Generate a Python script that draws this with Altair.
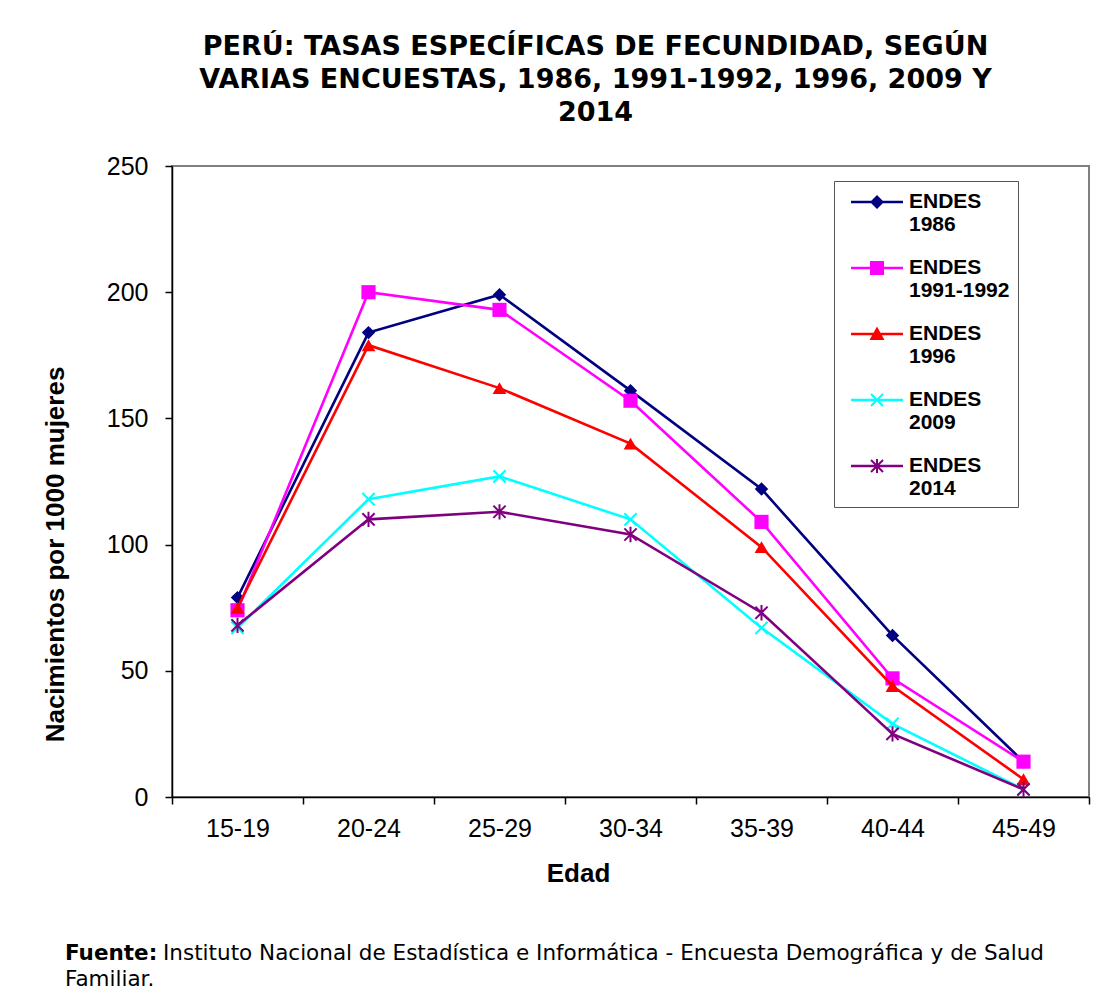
import math
import altair as alt
import pandas as pd

# ---------------- data ----------------
ages = ["15-19", "20-24", "25-29", "30-34", "35-39", "40-44", "45-49"]
series = ["ENDES 1986", "ENDES 1991-1992", "ENDES 1996", "ENDES 2009", "ENDES 2014"]
v1986 = [79, 184, 199, 161, 122, 64, 14]
v1991 = [74, 200, 193, 157, 109, 47, 14]
v1996 = [75, 179, 162, 140, 99, 44, 7]
v2009 = [67, 118, 127, 110, 67, 29, 3]
v2014 = [68, 110, 113, 104, 73, 25, 3]
y_ticks = [0, 50, 100, 150, 200, 250]

colors = ["#000080", "#FF00FF", "#FF0000", "#00FFFF", "#800080"]

values = [v1986, v1991, v1996, v2009, v2014]
rows = []
for s, vals in zip(series, values):
    for a, v in zip(ages, vals):
        rows.append({"Edad": a, "serie": s, "valor": v})
df = pd.DataFrame(rows)

# ---------------- styles ----------------
W, H = 917, 631
LABEL_FONT = "Liberation Sans"

# marker shapes for the data points (unit paths)
X_PATH = "M-1,-1L1,1M-1,1L1,-1"
AST_PATH = "M-1,-1L1,1M-1,1L1,-1M0,-1.25L0,1.25"
point_styles = [
    dict(shape="diamond", filled=True, size=180, strokeWidth=0),
    dict(shape="square", filled=True, size=200, strokeWidth=0),
    dict(shape="triangle-up", filled=True, size=190, strokeWidth=0),
    dict(shape=X_PATH, filled=False, size=150, strokeWidth=2),
    dict(shape=AST_PATH, filled=False, size=150, strokeWidth=2),
]

# legend symbols: horizontal line + marker, built as filled polygons
SYM_SIZE = 26.0          # nominal symbol box (px)
U = SYM_SIZE / 2.0       # px per path unit
HALF_LINE = 26.0         # half length of the legend line (px)


def poly(pts):
    area = 0.0
    for i in range(len(pts)):
        x1, y1 = pts[i]
        x2, y2 = pts[(i + 1) % len(pts)]
        area += x1 * y2 - x2 * y1
    if area < 0:
        pts = list(reversed(pts))
    return "M" + "L".join(f"{x / U:.4f},{y / U:.4f}" for x, y in pts) + "Z"


def thick(a, b, t):
    dx, dy = b[0] - a[0], b[1] - a[1]
    ln = math.hypot(dx, dy)
    nx, ny = -dy / ln * t / 2, dx / ln * t / 2
    return poly([(a[0] + nx, a[1] + ny), (b[0] + nx, b[1] + ny),
                 (b[0] - nx, b[1] - ny), (a[0] - nx, a[1] - ny)])


line_part = thick((-HALF_LINE, 0), (HALF_LINE, 0), 2.6)
legend_paths = [
    line_part + poly([(0, -7), (7, 0), (0, 7), (-7, 0)]),
    line_part + poly([(-7, -7), (7, -7), (7, 7), (-7, 7)]),
    line_part + poly([(0, -7.5), (7.5, 6), (-7.5, 6)]),
    line_part + thick((-6, -6), (6, 6), 2) + thick((-6, 6), (6, -6), 2),
    line_part + thick((-6, -6), (6, 6), 2) + thick((-6, 6), (6, -6), 2) + thick((0, -7), (0, 7), 2),
]

x_enc = alt.X(
    "Edad:N",
    sort=ages,
    scale=alt.Scale(type="band", paddingInner=0, paddingOuter=0),
    axis=alt.Axis(
        title="Edad",
        labelAngle=0,
        tickBand="extent",
        tickSize=7,
        labelPadding=12,
        titleX=406,
        titleY=76,
        titleBaseline="middle",
        titleAnchor="middle",
    ),
)
y_enc = alt.Y(
    "valor:Q",
    scale=alt.Scale(domain=[0, 250], nice=False),
    axis=alt.Axis(
        title="Nacimientos por 1000 mujeres",
        values=y_ticks,
        tickSize=7,
        labelPadding=17,
        titleAngle=-90,
        titleX=-117,
        titleY=388,
        titleBaseline="middle",
        titleAlign="center",
    ),
)

leg = alt.Legend(
    orient="none",
    legendX=662,
    legendY=15,
    title=None,
    labelExpr="split(datum.label, ' ')",
    labelFont=LABEL_FONT,
    labelFontSize=21,
    labelFontWeight="bold",
    labelColor="black",
    labelBaseline="middle",
    labelOffset=19,
    labelLimit=400,
    symbolSize=SYM_SIZE * SYM_SIZE,
    symbolOpacity=1,
    symbolStrokeWidth=0,
    symbolOffset=22,
    padding=8,
    rowPadding=20,
    strokeColor="#555555",
    fillColor="white",
)

base = alt.Chart(df)

legend_layer = base.mark_point(filled=True, opacity=0).encode(
    x=x_enc,
    y=y_enc,
    color=alt.Color("serie:N", scale=alt.Scale(domain=series, range=colors), legend=leg),
    shape=alt.Shape("serie:N", scale=alt.Scale(domain=series, range=legend_paths), legend=leg),
)

layers = [legend_layer]
for s, c, ps in zip(series, colors, point_styles):
    sub = base.transform_filter(alt.datum.serie == s)
    layers.append(sub.mark_line(color=c, strokeWidth=2.6).encode(x=x_enc, y=y_enc))
    layers.append(
        sub.mark_point(color=c, opacity=1, **ps).encode(x=x_enc, y=y_enc)
    )

main = alt.layer(*layers).properties(
    width=W,
    height=H,
    title=alt.TitleParams(
        text=[
            "PERÚ: TASAS ESPECÍFICAS DE FECUNDIDAD, SEGÚN",
            "VARIAS ENCUESTAS, 1986, 1991-1992, 1996, 2009 Y",
            "2014",
        ],
        font="DejaVu Sans",
        fontSize=27,
        fontWeight="bold",
        lineHeight=33,
        color="black",
        anchor="middle",
        frame="group",
        dx=-35,
        offset=27,
    ),
)

FOOT_SIZE = 21.5
source_rest = alt.vconcat(main).properties(
    title=alt.TitleParams(
        text="Instituto Nacional de Estadística e Informática - Encuesta Demográfica y de Salud",
        orient="bottom",
        anchor="start",
        font="DejaVu Sans",
        fontSize=FOOT_SIZE,
        fontWeight="normal",
        color="black",
        offset=56,
        dx=122,
    ),
)

chart = alt.vconcat(source_rest).properties(
    title=alt.TitleParams(
        text="Fuente:",
        subtitle="Familiar.",
        orient="bottom",
        anchor="start",
        font="DejaVu Sans",
        fontSize=FOOT_SIZE,
        fontWeight="bold",
        color="black",
        subtitleFont="DejaVu Sans",
        subtitleFontSize=FOOT_SIZE,
        subtitleFontWeight="normal",
        subtitleColor="black",
        subtitlePadding=5,
        offset=-22,
        dx=24,
    ),
    padding={"left": 33, "top": 24, "right": 10, "bottom": 10},
).configure(
    background="white",
).configure_view(
    stroke="#808080",
    strokeWidth=2,
).configure_axis(
    labelFont=LABEL_FONT,
    labelFontSize=25,
    labelColor="black",
    titleFont=LABEL_FONT,
    titleFontSize=26,
    titleFontWeight="bold",
    titleColor="black",
    domainColor="black",
    domainWidth=1.5,
    tickColor="black",
    tickWidth=1.5,
    grid=False,
)

chart.save("out.html", embed_options={"renderer": "svg", "actions": False})
